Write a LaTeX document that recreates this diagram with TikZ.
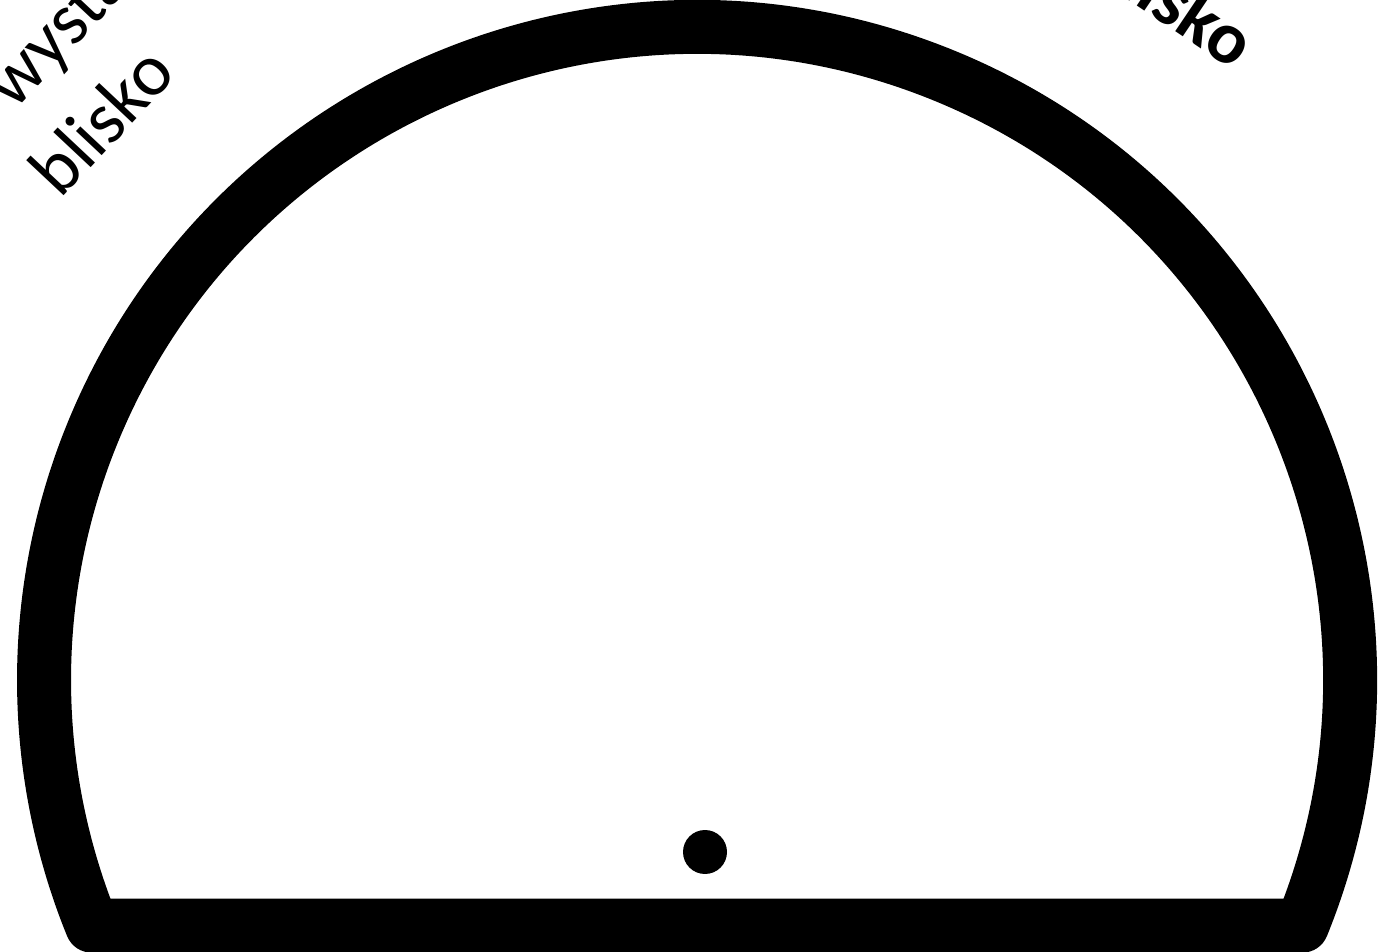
\documentclass[tikz,border=0pt]{standalone}
\usepackage{fontspec}
\setmainfont{Carlito}
\usetikzlibrary{calc}
\begin{document}
\begin{tikzpicture}[x=0.02cm,y=0.02cm,
    rim/.style={line width=1.08cm,line join=round},
    zone/.style={inner sep=0pt,font=\fontsize{42}{50}\selectfont},
    pointer/.style={circle,fill,inner sep=0pt,minimum size=0.88cm}]
  \useasboundingbox (0,0) rectangle (1383,951);
  \coordinate (c) at (697,271);
  % gauge outline
  \draw[rim] (c) ++(-22.1:653) arc[start angle=-22.1,end angle=202.1,radius=653] -- cycle;
  \node[pointer] (pivot) at (705,99) {};
  % zone labels
  \node[zone,rotate=46.8] (far) at (102,961) {Nie wystarczająco};
  \node[zone,rotate=46.8] (farb) at ($(c)+(136.8:818)$) {blisko};
  \node[zone,font=\fontsize{42}{50}\selectfont\bfseries,rotate=-34] (near) at (1137,976) {Za blisko};
\end{tikzpicture}
\end{document}
